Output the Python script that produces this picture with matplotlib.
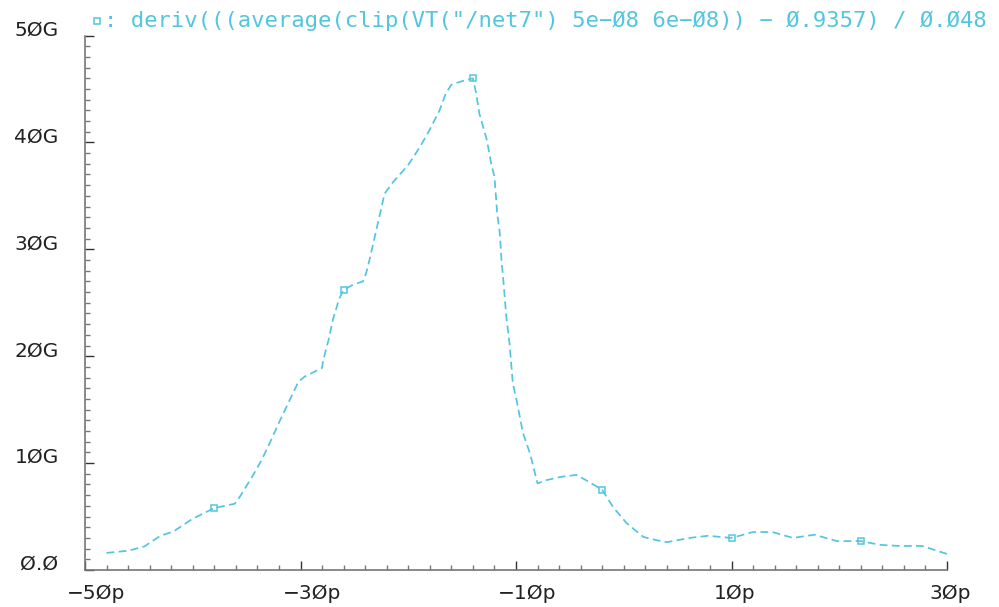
import numpy as np
import matplotlib
matplotlib.use('Agg')
import matplotlib.pyplot as plt
from matplotlib.lines import Line2D
from matplotlib.transforms import ScaledTranslation

# time in ps, deriv in G
t_ps = [-48, -46, -44.5, -43, -41.8, -40, -38, -36.1, -35.6, -34.5,
        -33.6, -32.8, -31.9, -31.0, -30.2, -29.6, -28.0, -27.9, -27.4, -27.0,
        -26.4, -26, -25.1, -24.2, -23.9, -23.6, -22.6, -22.2, -21.4, -20.0,
        -18.9, -18.0, -17.1, -16.5, -16.0, -15.1, -14, -13.7, -13.4, -12.7,
        -12.3, -12.0, -11.75, -11.5, -11.35, -11.2, -10.9, -10.6, -10.3, -9.95,
        -9.35, -8.7, -8.4, -8.0, -7.2, -5.9, -4.4, -3.5, -2, -1.0,
        0.25, 1.8, 3.0, 4.0, 6.1, 7.8, 10, 12.0, 13.8, 15.7,
        17.7, 19.8, 22, 23.8, 25.6, 27.7, 30]
deriv_g = [1.6, 1.8, 2.2, 3.2, 3.6, 4.8, 5.8, 6.2, 6.9, 8.7,
           10.3, 12.0, 14.0, 15.9, 17.6, 18.1, 18.9, 19.6, 21.5, 23.4,
           25.4, 26.2, 26.7, 27.0, 27.8, 29.0, 33.4, 35.2, 36.3, 37.9,
           39.6, 41.2, 43.0, 44.6, 45.4, 45.7, 46.0, 44.6, 42.7, 40.2,
           38.0, 36.8, 33.4, 31.5, 29.0, 27.4, 23.7, 21.2, 17.5, 15.9,
           12.8, 10.9, 9.7, 8.1, 8.4, 8.7, 8.9, 8.4, 7.5, 5.9,
           4.4, 3.1, 2.8, 2.6, 3.0, 3.2, 3.0, 3.55, 3.55, 3.0,
           3.3, 2.7, 2.7, 2.35, 2.25, 2.25, 1.5]
marker_t = [-38, -26, -14, -2, 10, 22]

xticks = [-50, -30, -10, 10, 30]
xlabels = ['\u22125\u00d8p', '\u22123\u00d8p', '\u22121\u00d8p', '1\u00d8p', '3\u00d8p']
yticks = [0, 10, 20, 30, 40, 50]
ylabels = ['\u00d8.\u00d8', '1\u00d8G', '2\u00d8G', '3\u00d8G', '4\u00d8G', '5\u00d8G']

title = ': deriv(((average(clip(VT("/net7") 5e\u2212\u00d88 6e\u2212\u00d88)) \u2212 \u00d8.9357) / \u00d8.\u00d848'

cyan = '#52c6df'
W, H = 999, 607

fig = plt.figure(figsize=(W / 100, H / 100), dpi=100)
ax = fig.add_axes([85 / W, 1 - 570 / H, (947 - 85) / W, (570 - 35.5) / H])

mask = np.isin(t_ps, marker_t)
ax.plot(t_ps, deriv_g, color=cyan, lw=1.25, dashes=(4.5, 2.5),
        marker='s', markersize=4.5, markerfacecolor='none', markeredgewidth=1.1,
        markevery=list(mask), clip_on=False)

ax.set_xlim(-50, 30)
ax.set_ylim(0, 50)

for s in ['top', 'right']:
    ax.spines[s].set_visible(False)
for s in ['left', 'bottom']:
    ax.spines[s].set_color('#777777')
    ax.spines[s].set_linewidth(1.2)

ax.set_xticks(xticks, labels=xlabels)
ax.set_xticks(np.arange(-48, 30, 2), minor=True)
ax.set_yticks(yticks, labels=ylabels)
ax.set_yticks(np.arange(1, 50, 1), minor=True)

ax.tick_params(which='both', direction='in', color='#333333', width=1.0)
ax.tick_params(which='major', length=6.5)
ax.tick_params(which='minor', length=3.6, color='#777777')
ax.tick_params(axis='x', which='major', pad=10, labelsize=14.5, labelcolor='#222222')
ax.tick_params(axis='y', which='major', pad=19, labelsize=14.5, labelcolor='#222222')

shift = ScaledTranslation(-18 / 100, 0, fig.dpi_scale_trans)
for lab in ax.get_xticklabels():
    lab.set_ha('left')
    lab.set_transform(lab.get_transform() + shift)
for lab in ax.get_yticklabels():
    lab.set_va('baseline')

ax.patch.set_visible(False)

# legend marker + expression text
fig.add_artist(Line2D([97 / W], [1 - 21 / H], marker='s', markersize=4.5,
                      markerfacecolor='none', markeredgecolor=cyan,
                      markeredgewidth=1.1, linestyle='none'))
fig.text(104 / W, 1 - 27 / H, title, family='DejaVu Sans Mono', fontsize=16,
         color=cyan, ha='left', va='baseline')

fig.savefig('out.png', dpi=100)
